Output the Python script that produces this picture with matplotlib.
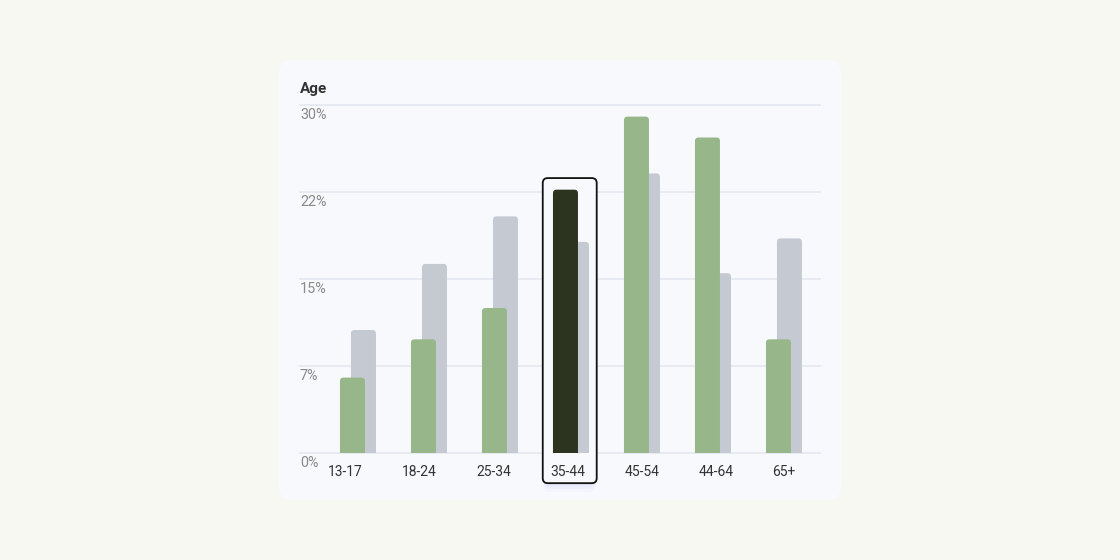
import matplotlib
matplotlib.use("Agg")
import matplotlib.pyplot as plt
from matplotlib.patches import FancyBboxPatch
import matplotlib.transforms as mtransforms

plt.rcParams["font.family"] = ["Roboto", "DejaVu Sans"]

age_groups = ["13-17", "18-24", "25-34", "35-44", "45-54", "44-64", "65+"]
green_values = [6.5, 9.8, 12.5, 22.7, 29.0, 27.2, 9.8]
grey_values = [10.6, 16.3, 20.4, 18.2, 24.1, 15.5, 18.5]
y_ticks = [0, 7.5, 15, 22.5, 30]
y_tick_labels = ["0%", "7%", "15%", "22%", "30%"]
highlight = 3

fig = plt.figure(figsize=(11.2, 5.6), dpi=100)
fig.patch.set_facecolor("#f6f8f1")

# card behind the chart
card = FancyBboxPatch((279 / 1120, 1 - 500 / 560), 562 / 1120, 440 / 560,
                      boxstyle="round,pad=0,rounding_size=0.012",
                      transform=fig.transFigure, facecolor="#f8f9fd",
                      edgecolor="none", mutation_aspect=2.0, zorder=-10)
fig.patches.append(card)

ax = fig.add_axes([300 / 1120, 1 - 453 / 560, 520 / 1120, 348 / 560])
ax.set_facecolor("none")
ax.set_xlim(-0.739, 6.585)
ax.set_ylim(0, 30)
for s in ax.spines.values():
    s.set_visible(False)
ax.set_xticks([])
ax.set_yticks([])

for v, lab in zip(y_ticks, y_tick_labels):
    ax.axhline(v, color="#e4e7ee", lw=1.2, zorder=1, clip_on=False)
    off = mtransforms.offset_copy(ax.transData, fig=fig, x=0, y=-3, units="dots")
    ax.text(-0.739, v, lab, transform=off, ha="left", va="top",
            fontsize=10.4, color="#8a8a8a")

x = list(range(len(age_groups)))
width = 25 / 71
shift = 11 / 71

grey_colors = ["#c5c9d1"] * len(x)
green_colors = ["#97b78a"] * len(x)
green_colors[highlight] = "#2c331f"

grey_bars = ax.bar([i + shift for i in x], grey_values, width=width,
                   color=grey_colors, zorder=2)
green_bars = ax.bar(x, green_values, width=width, color=green_colors, zorder=3)


def round_bars(bars, z):
    for r in bars:
        r.set_visible(False)
        bx, by = r.get_x(), r.get_y()
        bw, bh = r.get_width(), r.get_height()
        p = FancyBboxPatch((bx, by - 1), bw, bh + 1,
                           boxstyle="round,pad=0,rounding_size=0.05",
                           mutation_aspect=6.1, facecolor=r.get_facecolor(),
                           edgecolor="none", zorder=z)
        ax.add_patch(p)


round_bars(grey_bars, 2)
round_bars(green_bars, 3)

# highlight frame around selected group
for k, a in enumerate([0.05, 0.04, 0.03]):
    glow = FancyBboxPatch((highlight - 0.32 + 0.02, -2.6 - 0.25 * (k + 1)),
                          0.76 - 0.04, 26.3,
                          boxstyle="round,pad=0,rounding_size=0.09",
                          mutation_aspect=6.1, facecolor="#6f6ff0",
                          edgecolor="none", alpha=a, zorder=1.4, clip_on=False)
    ax.add_patch(glow)
frame = FancyBboxPatch((highlight - 0.32, -2.6), 0.76, 26.3,
                       boxstyle="round,pad=0,rounding_size=0.07",
                       mutation_aspect=6.1, facecolor="#f8f9fd",
                       edgecolor="#111111", lw=1.3, zorder=1.5, clip_on=False)
ax.add_patch(frame)

# category labels, left-aligned
for i, lab in enumerate(age_groups):
    ax.text(-0.341 + i * 74 / 71, -1.6, lab, ha="left", va="center",
            fontsize=10, color="#333333", zorder=5)

fig.text(300 / 1120, 1 - 89 / 560, "Age", ha="left", va="center",
         fontsize=11, fontweight="bold", color="#333333")

fig.savefig("out.png", dpi=100, facecolor=fig.get_facecolor())
